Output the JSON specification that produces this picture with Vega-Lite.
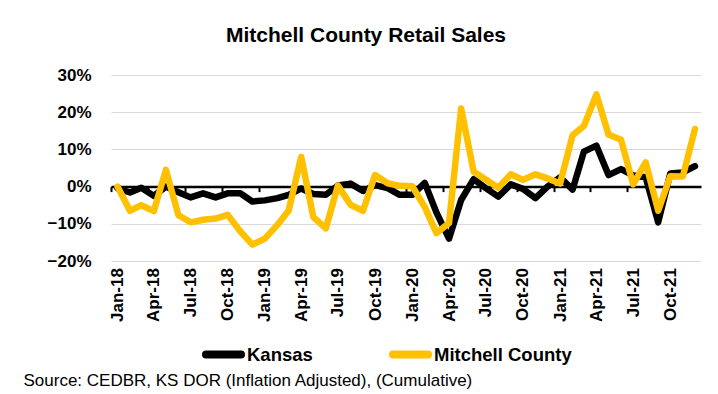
{
  "$schema": "https://vega.github.io/schema/vega-lite/v6.json",
  "width": 590,
  "height": 186,
  "autosize": {"type": "none"},
  "padding": {"left": 111, "top": 75, "right": 17, "bottom": 133},
  "background": "white",
  "title": {
    "text": "Mitchell County Retail Sales",
    "font": "Liberation Sans",
    "fontSize": 21,
    "fontWeight": "bold",
    "color": "#000000",
    "anchor": "middle",
    "dx": -40,
    "offset": 20
  },
  "data": {
    "values": [
      {"date": "2018/01/01", "series": "Kansas", "value": -0.004},
      {"date": "2018/02/01", "series": "Kansas", "value": -0.016},
      {"date": "2018/03/01", "series": "Kansas", "value": -0.003},
      {"date": "2018/04/01", "series": "Kansas", "value": -0.025},
      {"date": "2018/05/01", "series": "Kansas", "value": 0.0},
      {"date": "2018/06/01", "series": "Kansas", "value": -0.015},
      {"date": "2018/07/01", "series": "Kansas", "value": -0.029},
      {"date": "2018/08/01", "series": "Kansas", "value": -0.018},
      {"date": "2018/09/01", "series": "Kansas", "value": -0.029},
      {"date": "2018/10/01", "series": "Kansas", "value": -0.018},
      {"date": "2018/11/01", "series": "Kansas", "value": -0.018},
      {"date": "2018/12/01", "series": "Kansas", "value": -0.04},
      {"date": "2019/01/01", "series": "Kansas", "value": -0.037},
      {"date": "2019/02/01", "series": "Kansas", "value": -0.031},
      {"date": "2019/03/01", "series": "Kansas", "value": -0.022},
      {"date": "2019/04/01", "series": "Kansas", "value": -0.005},
      {"date": "2019/05/01", "series": "Kansas", "value": -0.02},
      {"date": "2019/06/01", "series": "Kansas", "value": -0.022},
      {"date": "2019/07/01", "series": "Kansas", "value": 0.003},
      {"date": "2019/08/01", "series": "Kansas", "value": 0.008},
      {"date": "2019/09/01", "series": "Kansas", "value": -0.012},
      {"date": "2019/10/01", "series": "Kansas", "value": 0.004},
      {"date": "2019/11/01", "series": "Kansas", "value": -0.004},
      {"date": "2019/12/01", "series": "Kansas", "value": -0.022},
      {"date": "2020/01/01", "series": "Kansas", "value": -0.022},
      {"date": "2020/02/01", "series": "Kansas", "value": 0.01},
      {"date": "2020/03/01", "series": "Kansas", "value": -0.07},
      {"date": "2020/04/01", "series": "Kansas", "value": -0.14},
      {"date": "2020/05/01", "series": "Kansas", "value": -0.036},
      {"date": "2020/06/01", "series": "Kansas", "value": 0.02},
      {"date": "2020/07/01", "series": "Kansas", "value": -0.004},
      {"date": "2020/08/01", "series": "Kansas", "value": -0.027},
      {"date": "2020/09/01", "series": "Kansas", "value": 0.006},
      {"date": "2020/10/01", "series": "Kansas", "value": -0.006},
      {"date": "2020/11/01", "series": "Kansas", "value": -0.031},
      {"date": "2020/12/01", "series": "Kansas", "value": 0.0},
      {"date": "2021/01/01", "series": "Kansas", "value": 0.025},
      {"date": "2021/02/01", "series": "Kansas", "value": -0.008},
      {"date": "2021/03/01", "series": "Kansas", "value": 0.094},
      {"date": "2021/04/01", "series": "Kansas", "value": 0.11},
      {"date": "2021/05/01", "series": "Kansas", "value": 0.031},
      {"date": "2021/06/01", "series": "Kansas", "value": 0.047},
      {"date": "2021/07/01", "series": "Kansas", "value": 0.03},
      {"date": "2021/08/01", "series": "Kansas", "value": 0.025},
      {"date": "2021/09/01", "series": "Kansas", "value": -0.096},
      {"date": "2021/10/01", "series": "Kansas", "value": 0.035},
      {"date": "2021/11/01", "series": "Kansas", "value": 0.038},
      {"date": "2021/12/01", "series": "Kansas", "value": 0.055},
      {"date": "2018/01/01", "series": "Mitchell County", "value": 0.0},
      {"date": "2018/02/01", "series": "Mitchell County", "value": -0.065},
      {"date": "2018/03/01", "series": "Mitchell County", "value": -0.05},
      {"date": "2018/04/01", "series": "Mitchell County", "value": -0.066},
      {"date": "2018/05/01", "series": "Mitchell County", "value": 0.045},
      {"date": "2018/06/01", "series": "Mitchell County", "value": -0.077},
      {"date": "2018/07/01", "series": "Mitchell County", "value": -0.096},
      {"date": "2018/08/01", "series": "Mitchell County", "value": -0.089},
      {"date": "2018/09/01", "series": "Mitchell County", "value": -0.086},
      {"date": "2018/10/01", "series": "Mitchell County", "value": -0.076},
      {"date": "2018/11/01", "series": "Mitchell County", "value": -0.12},
      {"date": "2018/12/01", "series": "Mitchell County", "value": -0.156},
      {"date": "2019/01/01", "series": "Mitchell County", "value": -0.14},
      {"date": "2019/02/01", "series": "Mitchell County", "value": -0.103},
      {"date": "2019/03/01", "series": "Mitchell County", "value": -0.064},
      {"date": "2019/04/01", "series": "Mitchell County", "value": 0.08},
      {"date": "2019/05/01", "series": "Mitchell County", "value": -0.082},
      {"date": "2019/06/01", "series": "Mitchell County", "value": -0.112},
      {"date": "2019/07/01", "series": "Mitchell County", "value": 0.003},
      {"date": "2019/08/01", "series": "Mitchell County", "value": -0.049},
      {"date": "2019/09/01", "series": "Mitchell County", "value": -0.065},
      {"date": "2019/10/01", "series": "Mitchell County", "value": 0.031},
      {"date": "2019/11/01", "series": "Mitchell County", "value": 0.009},
      {"date": "2019/12/01", "series": "Mitchell County", "value": 0.002},
      {"date": "2020/01/01", "series": "Mitchell County", "value": 0.001},
      {"date": "2020/02/01", "series": "Mitchell County", "value": -0.055},
      {"date": "2020/03/01", "series": "Mitchell County", "value": -0.125},
      {"date": "2020/04/01", "series": "Mitchell County", "value": -0.098},
      {"date": "2020/05/01", "series": "Mitchell County", "value": 0.21},
      {"date": "2020/06/01", "series": "Mitchell County", "value": 0.04},
      {"date": "2020/07/01", "series": "Mitchell County", "value": 0.019},
      {"date": "2020/08/01", "series": "Mitchell County", "value": -0.003},
      {"date": "2020/09/01", "series": "Mitchell County", "value": 0.033},
      {"date": "2020/10/01", "series": "Mitchell County", "value": 0.018},
      {"date": "2020/11/01", "series": "Mitchell County", "value": 0.033},
      {"date": "2020/12/01", "series": "Mitchell County", "value": 0.022},
      {"date": "2021/01/01", "series": "Mitchell County", "value": 0.008},
      {"date": "2021/02/01", "series": "Mitchell County", "value": 0.138},
      {"date": "2021/03/01", "series": "Mitchell County", "value": 0.163},
      {"date": "2021/04/01", "series": "Mitchell County", "value": 0.248},
      {"date": "2021/05/01", "series": "Mitchell County", "value": 0.14},
      {"date": "2021/06/01", "series": "Mitchell County", "value": 0.126},
      {"date": "2021/07/01", "series": "Mitchell County", "value": 0.006},
      {"date": "2021/08/01", "series": "Mitchell County", "value": 0.065},
      {"date": "2021/09/01", "series": "Mitchell County", "value": -0.065},
      {"date": "2021/10/01", "series": "Mitchell County", "value": 0.028},
      {"date": "2021/11/01", "series": "Mitchell County", "value": 0.027},
      {"date": "2021/12/01", "series": "Mitchell County", "value": 0.155}
    ]
  },
  "mark": {"type": "line", "strokeWidth": 6.5, "strokeCap": "round", "strokeJoin": "round"},
  "encoding": {
    "x": {
      "field": "date",
      "type": "temporal",
      "scale": {"domain": [{"year": 2017, "month": 12, "date": 16}, {"year": 2021, "month": 12, "date": 16}]},
      "axis": {
        "title": "Source: CEDBR, KS DOR (Inflation Adjusted), (Cumulative)",
        "titleFont": "Liberation Sans",
        "titleFontSize": 17,
        "titleFontWeight": "normal",
        "titleColor": "#000000",
        "titleAlign": "left",
        "titleAnchor": "start",
        "titleBaseline": "alphabetic",
        "titleX": -88,
        "titleY": 199,
        "offset": -74.4,
        "format": "%b-%y",
        "tickCount": {"interval": "month", "step": 3},
        "labelAngle": 270,
        "labelFont": "Liberation Sans",
        "labelFontSize": 17,
        "labelFontWeight": "bold",
        "labelColor": "#000000",
        "labelPadding": 76,
        "labelOverlap": false,
        "labelFlush": false,
        "tickOffset": -6,
        "labelOffset": 6,
        "tickSize": 5,
        "tickColor": "#000000",
        "tickWidth": 2,
        "domainColor": "#000000",
        "domainWidth": 2.5,
        "grid": false
      }
    },
    "y": {
      "field": "value",
      "type": "quantitative",
      "scale": {"domain": [-0.2, 0.3], "nice": false, "zero": false},
      "axis": {
        "title": null,
        "values": [-0.2, -0.1, 0, 0.1, 0.2, 0.3],
        "format": ".0%",
        "labelFont": "Liberation Sans",
        "labelFontSize": 17,
        "labelFontWeight": "bold",
        "labelColor": "#000000",
        "labelPadding": 20,
        "ticks": false,
        "tickSize": 0,
        "domain": false,
        "grid": true,
        "gridColor": "#d9d9d9",
        "gridWidth": 1.2
      }
    },
    "color": {
      "field": "series",
      "type": "nominal",
      "scale": {"domain": ["Kansas", "Mitchell County"], "range": ["#000000", "#FFC000"]},
      "legend": {
        "title": null,
        "orient": "none",
        "direction": "horizontal",
        "legendX": 91,
        "legendY": 258,
        "symbolType": "stroke",
        "symbolSize": 1225,
        "symbolStrokeWidth": 8,
        "labelFont": "Liberation Sans",
        "labelFontSize": 18.5,
        "labelFontWeight": "bold",
        "labelColor": "#000000",
        "labelOffset": 2,
        "columnPadding": 64,
        "gridAlign": "none",
        "encode": {"symbols": {"update": {"strokeCap": {"value": "round"}}}}
      }
    }
  },
  "config": {"view": {"stroke": null}}
}
